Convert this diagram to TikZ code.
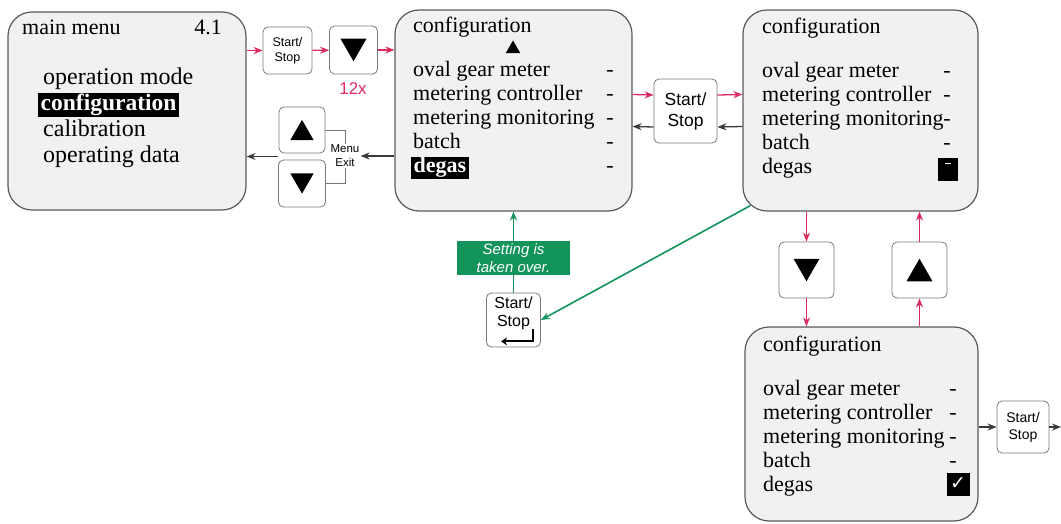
\documentclass[tikz,border=0pt]{standalone}
\usepackage{fontspec}
\setmainfont{Liberation Serif}
\setsansfont{Liberation Sans}
\newfontfamily\symfont{DejaVu Sans}
\usetikzlibrary{arrows.meta,positioning,calc,shapes.geometric}
\definecolor{KeyRed}{HTML}{DC2A5E}
\definecolor{KeyDark}{HTML}{3A3A3A}
\definecolor{TakeGreen}{HTML}{12935A}
\definecolor{ScreenBack}{HTML}{F1F1F1}
\definecolor{ScreenBorder}{HTML}{5A5A5A}
\tikzset{>={Stealth[length=9pt,width=7pt]},
 screen/.style={draw=ScreenBorder,fill=ScreenBack,rounded corners=24pt,line width=1.2pt},
 key/.style={draw=ScreenBorder!80,fill=white,rounded corners=5pt,line width=.8pt,align=center,inner sep=0pt},
 item/.style={anchor=base west,inner sep=0pt,font=\fontsize{22}{24}\selectfont},
 dashmark/.style={anchor=base,inner sep=0pt,font=\fontsize{22}{24}\selectfont},
 sel/.style={fill=black,text=white,inner xsep=2.5pt,inner ysep=1pt,font=\bfseries\fontsize{22}{24}\selectfont},
 tri/.style={regular polygon,regular polygon sides=3,fill=black,inner sep=0pt,minimum size=30pt},
 fwd/.style={KeyRed,->,line width=1.3pt},back/.style={KeyDark,->,line width=1.3pt},
 ok/.style={TakeGreen,->,line width=1.6pt}}
\begin{document}
\begin{tikzpicture}[x=1pt,y=-1pt]
\useasboundingbox (0,0) rectangle (1061,524);
% screens
\node[screen,minimum width=238pt,minimum height=198pt] (menu) at (127,111) {};
\node[screen,minimum width=237pt,minimum height=201pt] (cfgA) at (513.5,110.5) {};
\node[screen,minimum width=235pt,minimum height=201pt] (cfgB) at (860.5,110.5) {};
\node[screen,minimum width=233pt,minimum height=194pt] (cfgC) at (861.5,424) {};
% main menu
\node[item] (menuTitle) at (22,35) {main menu};
\node[item,anchor=base east] (menuNo) at (222,35) {4.1};
\foreach \i/\lab in {0/operation mode,2/calibration,3/operating data}
 {\node[item,font=\fontsize{24}{24}\selectfont] (menu-\i) at (43,{85+26*\i}) {\lab};}
\node[item,sel,font=\bfseries\fontsize{23.5}{24}\selectfont] (menu-1) at (38,111) {configuration};
% configuration screens
\foreach \s/\x/\y/\d in {A/413/77/610,B/762/78/947,C/763/395/953}{
 \node[item] (cfg\s-title) at (\x,{\y-44}) {configuration};
 \foreach \i/\lab in {1/oval gear meter,2/metering controller,3/metering monitoring,4/batch}{
  \node[item] (cfg\s-\i) at (\x,{\y+24*(\i-1)}) {\lab};
  \node[dashmark] (cfg\s-d\i) at (\d,{\y+24*(\i-1)}) {-};}}
\node[tri,minimum size=17pt,yshift=-2pt] (cfgA-up) at (513,47) {};
\node[item,sel] (cfgA-5) at (411,173) {degas};
\node[dashmark] (cfgA-d5) at (610,173) {-};
\node[item] (cfgB-5) at (762,174) {degas};
\node[fill=black,minimum width=20pt,minimum height=23pt,inner sep=0pt] (cfgB-sq) at (948,170) {};
\draw[white,line width=1.5pt] ($(cfgB-sq.north)+(-3,5)$) -- ($(cfgB-sq.north)+(3,5)$);
\node[item] (cfgC-5) at (763,491) {degas};
\node[fill=black,text=white,minimum size=23pt,inner sep=0pt,font=\symfont\bfseries\fontsize{19}{19}\selectfont] (cfgC-chk) at (958,484) {✓};
% keys
\node[key,minimum width=49pt,minimum height=47pt,font=\sffamily\fontsize{12.5}{15}\selectfont] (ss1) at (287.5,50.5) {Start/\\Stop};
\node[key,minimum size=48pt] (dn1) at (353.5,50) {};
\node[tri,shape border rotate=180,yshift=3.75pt] (dn1t) at (dn1) {};
\node[KeyRed,font=\sffamily\fontsize{17}{17}\selectfont] (times) at (353,89) {12x};
\node[key,minimum size=46pt] (up1) at (302,130) {};
\node[tri,minimum size=27pt,yshift=-3.4pt] (up1t) at (up1) {};
\node[key,minimum size=47pt] (dn2) at (302,183.5) {};
\node[tri,minimum size=27pt,shape border rotate=180,yshift=3.4pt] (dn2t) at (dn2) {};
\node[align=center,inner sep=1pt,font=\sffamily\fontsize{11.5}{14}\selectfont] (menuexit) at (345,156) {Menu\\Exit};
\node[key,minimum width=63pt,minimum height=64pt,font=\sffamily\fontsize{17.5}{21}\selectfont] (ss2) at (685.5,111) {Start/\\Stop};
\node[key,minimum width=55pt,minimum height=56pt] (dn3) at (806.5,270) {};
\node[tri,shape border rotate=180,yshift=3.75pt] (dn3t) at (dn3) {};
\node[key,minimum width=55pt,minimum height=56pt] (up3) at (919.5,270) {};
\node[tri,yshift=-3.75pt] (up3t) at (up3) {};
\node[key,minimum width=52pt,minimum height=52pt,font=\sffamily\fontsize{14}{17}\selectfont] (ss3) at (1023,427) {Start/\\Stop};
\node[key,minimum width=54pt,minimum height=54pt] (ent) at (513.5,320) {};
\node[align=center,inner sep=0pt,font=\sffamily\fontsize{16}{18}\selectfont] (entTxt) at (513.5,313) {Start/\\Stop};
\draw[line width=2pt,-{Stealth[length=6pt,width=8pt]}] ($(ent.south east)+(-8,-18)$) |- ($(ent.south west)+(15,-6)$);
\node[fill=TakeGreen,text=white,minimum width=113pt,minimum height=34pt,align=center,inner sep=1pt,
 font=\sffamily\itshape\fontsize{15}{18}\selectfont] (taken) at (513.5,258) {Setting is\\taken over.};
% connectors
\draw[fwd] (menu.east |- ss1.west) -- (ss1.west);
\draw[fwd] (ss1) -- (dn1);
\draw[fwd] (dn1.east) -- (cfgA.west |- dn1.east);
\draw[KeyDark!70,line width=.6pt] (up1.east) -| (menuexit.north);
\draw[KeyDark!70,line width=.6pt] (dn2.east) -| (menuexit.south);
\draw[back] (cfgA.west |- menuexit.east) -- (menuexit.east);
\coordinate (gap) at ($(up1.south west)!.5!(dn2.north west)$);
\draw[back] (gap) -- (menu.east |- gap);
\draw[fwd] ($(cfgA.east)+(0,-16)$) -- ($(ss2.west)+(0,-16)$);
\draw[fwd] ($(ss2.east)+(0,-16)$) -- ($(cfgB.west)+(0,-16)$);
\draw[back] ($(cfgB.west)+(0,16)$) -- ($(ss2.east)+(0,16)$);
\draw[back] ($(ss2.west)+(0,16)$) -- ($(cfgA.east)+(0,16)$);
\draw[fwd] (dn3 |- cfgB.south) -- (dn3.north);
\draw[fwd] (dn3.south) -- (dn3 |- cfgC.north);
\draw[fwd] (up3 |- cfgC.north) -- (up3.south);
\draw[fwd] (up3.north) -- (up3 |- cfgB.south);
\coordinate (out) at (1061,427);
\draw[back] (cfgC.east |- ss3.west) -- (ss3.west);
\draw[back] (ss3.east) -- (out);
\draw[TakeGreen,line width=1.6pt] (ent.north) -- (taken.south);
\draw[ok] (taken.north) -- (cfgA.south);
\draw[ok] ($(cfgB.south west)+(8,-6)$) -- (ent.east);
\end{tikzpicture}
\end{document}
